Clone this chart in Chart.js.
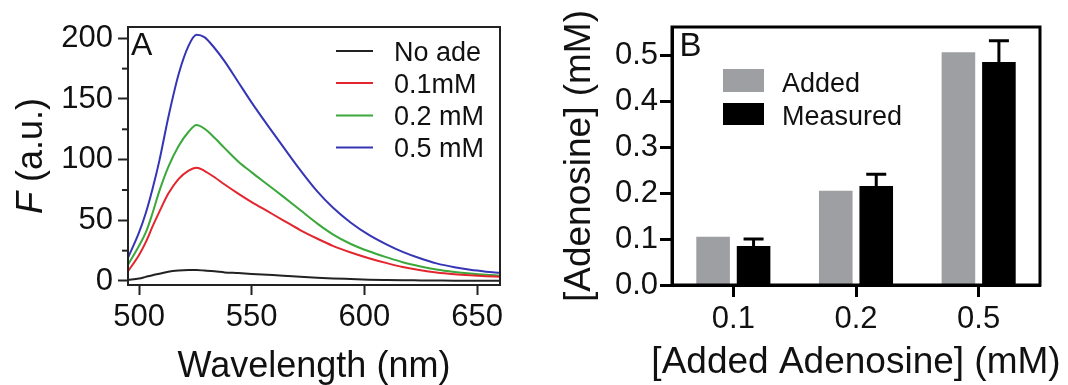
<!DOCTYPE html>
<html>
<head>
<meta charset="utf-8">
<script src="https://cdn.jsdelivr.net/npm/chart.js@4.4.1/dist/chart.umd.min.js"></script>
<style>
  body { margin: 0; background: #fff; }
  .panel { position: absolute; top: 0; height: 385px; }
  #panelA { left: 0; width: 520px; }
  #panelB { left: 540px; width: 528px; }
</style>
</head>
<body>
<div class="panel" id="panelA"><canvas id="chartA" width="520" height="385"></canvas></div>
<div class="panel" id="panelB"><canvas id="chartB" width="528" height="385"></canvas></div>
<script>
// panel A: emission spectra
const wavelengths = [495, 500, 503, 506, 509, 513, 517.5, 522, 525.5, 529, 533.5, 538, 544, 550, 557, 564, 571.5, 579, 586, 594, 602, 610, 617, 625, 632, 640, 647, 654, 660];
const noAde = [0.8, 2, 3.4, 4.8, 6, 7.7, 8.6, 9, 9, 8.6, 8, 7.1, 6.5, 5.8, 5.1, 4.4, 3.5, 2.7, 2.1, 1.6, 1.1, 0.8, 0.6, 0.5, 0.4, 0.3, 0.3, 0.2, 0.2];
const ade01 = [7.7, 21.4, 32, 45, 57, 72, 84, 91, 93.4, 90.8, 85.5, 79.5, 72, 65, 57.5, 50, 42, 35, 29, 23.5, 18.8, 14.7, 11.5, 8.8, 7, 5.6, 4.7, 4, 3.5];
const ade02 = [13, 29, 40, 56, 74, 94, 111, 123, 128.5, 125.5, 118, 109.5, 98.5, 89.5, 79.5, 69.5, 58.5, 47.5, 38.5, 30.5, 24.5, 19.5, 15.5, 12, 9.5, 7.5, 6.2, 5.2, 4.6];
const ade05 = [18.7, 40, 56, 76, 99, 135, 170, 194, 203, 201, 192, 181, 164, 147, 128.5, 110.5, 91.5, 74, 60.5, 48, 38, 30, 24, 18.5, 14.5, 11.3, 9.2, 7.7, 6.7];
const spectraLabels = ["No ade", "0.1mM", "0.2 mM", "0.5 mM"];
const spectraColors = ["#222222", "#e3262e", "#3aa83a", "#3535b5"];

// panel B: added vs measured
const addedLevels = ["0.1", "0.2", "0.5"];
const added = [0.105, 0.205, 0.506];
const measured = [0.085, 0.215, 0.485];
const measuredErr = [0.015, 0.026, 0.046];

const FONT = "'Liberation Sans', Arial, Helvetica, sans-serif";
Chart.defaults.font.family = FONT;
Chart.defaults.color = "#111";

const toPoints = (ys) => wavelengths.map((x, i) => ({ x, y: ys[i] }));

const decorA = {
  id: "decorA",
  afterDraw(chart) {
    const { ctx, chartArea: a, scales } = chart;
    ctx.save();
    // frame
    ctx.strokeStyle = "#222";
    ctx.lineWidth = 2;
    ctx.strokeRect(a.left, a.top, a.right - a.left, a.bottom - a.top);
    // minor y ticks
    [25, 75, 125, 175].forEach((v) => {
      const y = scales.y.getPixelForValue(v);
      ctx.beginPath();
      ctx.moveTo(a.left - 6, y);
      ctx.lineTo(a.left, y);
      ctx.stroke();
    });
    ctx.fillStyle = "#111";
    ctx.textBaseline = "alphabetic";
    // panel letter
    ctx.font = "32px " + FONT;
    ctx.textAlign = "left";
    ctx.fillText("A", 131, 55);
    // legend
    ctx.font = "27px " + FONT;
    const rows = [51, 83, 115.5, 147.5];
    spectraLabels.forEach((lab, i) => {
      ctx.strokeStyle = spectraColors[i];
      ctx.lineWidth = 2;
      ctx.beginPath();
      ctx.moveTo(336, rows[i]);
      ctx.lineTo(373, rows[i]);
      ctx.stroke();
      ctx.fillText(lab, 394, rows[i] + 9.5);
    });
    // x title
    ctx.font = "36px " + FONT;
    ctx.textAlign = "center";
    ctx.fillText("Wavelength (nm)", (a.left + a.right) / 2, 377);
    // y title, F in italics
    ctx.translate(42, (a.top + a.bottom) / 2);
    ctx.rotate(-Math.PI / 2);
    ctx.textAlign = "left";
    ctx.font = "italic 36px " + FONT;
    const wF = ctx.measureText("F").width;
    ctx.font = "36px " + FONT;
    const wRest = ctx.measureText(" (a.u.)").width;
    const x0 = -(wF + wRest) / 2;
    ctx.font = "italic 36px " + FONT;
    ctx.fillText("F", x0, 0);
    ctx.font = "36px " + FONT;
    ctx.fillText(" (a.u.)", x0 + wF, 0);
    ctx.restore();
  },
};

const chartA = new Chart(document.getElementById("chartA"), {
  type: "line",
  data: {
    datasets: [noAde, ade01, ade02, ade05].map((ys, i) => ({
      label: spectraLabels[i],
      data: toPoints(ys),
      borderColor: spectraColors[i],
      borderWidth: 2,
      pointRadius: 0,
      fill: false,
      cubicInterpolationMode: "monotone",
    })),
  },
  options: {
    responsive: false,
    animation: false,
    devicePixelRatio: 1,
    layout: { padding: { top: 27, right: 20, left: 0, bottom: 0 } },
    plugins: { legend: { display: false }, tooltip: { enabled: false } },
    scales: {
      x: {
        type: "linear",
        min: 495.1,
        max: 660.2,
        ticks: { stepSize: 50, includeBounds: false, maxRotation: 0, padding: 4, font: { size: 31 } },
        grid: { drawOnChartArea: false, tickLength: 10, tickWidth: 2, tickColor: "#222" },
        border: { color: "#222", width: 2 },
        afterFit: (s) => { s.height = 100; },
      },
      y: {
        min: -3.3,
        max: 209.3,
        ticks: { stepSize: 50, includeBounds: false, padding: 5, font: { size: 31 } },
        grid: { drawOnChartArea: false, tickLength: 10, tickWidth: 2, tickColor: "#222" },
        border: { color: "#222", width: 2 },
        afterFit: (s) => { s.width = 128; },
      },
    },
  },
  plugins: [decorA],
});

const decorB = {
  id: "decorB",
  afterDatasetsDraw(chart) {
    // error bars on the measured bars
    const { ctx, scales } = chart;
    const meta = chart.getDatasetMeta(1);
    ctx.save();
    ctx.strokeStyle = "#000";
    ctx.lineWidth = 3;
    meta.data.forEach((bar, i) => {
      const yTop = scales.y.getPixelForValue(measured[i] + measuredErr[i]);
      ctx.beginPath();
      ctx.moveTo(bar.x, bar.y);
      ctx.lineTo(bar.x, yTop);
      ctx.moveTo(bar.x - 10, yTop);
      ctx.lineTo(bar.x + 10, yTop);
      ctx.stroke();
    });
    ctx.restore();
  },
  afterDraw(chart) {
    const { ctx, chartArea: a } = chart;
    ctx.save();
    ctx.strokeStyle = "#000";
    ctx.lineWidth = 3;
    ctx.strokeRect(a.left, a.top, a.right - a.left, a.bottom - a.top);
    ctx.fillStyle = "#111";
    ctx.textBaseline = "alphabetic";
    ctx.font = "33px " + FONT;
    ctx.textAlign = "left";
    ctx.fillText("B", 139.5, 56);
    // legend
    const ds = chart.data.datasets;
    const boxes = [[69, 92], [103, 125]];
    ctx.font = "27px " + FONT;
    ds.forEach((d, i) => {
      ctx.fillStyle = d.backgroundColor;
      ctx.fillRect(183, boxes[i][0], 41, boxes[i][1] - boxes[i][0]);
      ctx.fillStyle = "#111";
      ctx.fillText(d.label, 242, boxes[i][1]);
    });
    // titles
    ctx.font = "37px " + FONT;
    ctx.textAlign = "center";
    ctx.fillText("[Added Adenosine] (mM)", (a.left + a.right) / 2, 373);
    ctx.translate(50, (a.top + a.bottom) / 2);
    ctx.rotate(-Math.PI / 2);
    ctx.fillText("[Adenosine] (mM)", 0, 0);
    ctx.restore();
  },
};

const chartB = new Chart(document.getElementById("chartB"), {
  type: "bar",
  data: {
    labels: addedLevels,
    datasets: [
      { label: "Added", data: added, backgroundColor: "#9e9fa3" },
      { label: "Measured", data: measured, backgroundColor: "#000000" },
    ],
  },
  options: {
    responsive: false,
    animation: false,
    devicePixelRatio: 1,
    layout: { padding: { top: 27, right: 28, left: 0, bottom: 0 } },
    datasets: { bar: { barPercentage: 0.83, categoryPercentage: 0.66, borderWidth: 0 } },
    plugins: { legend: { display: false }, tooltip: { enabled: false } },
    scales: {
      x: {
        ticks: { maxRotation: 0, padding: 4, font: { size: 31 } },
        grid: { offset: false, drawOnChartArea: false, tickLength: 12, tickWidth: 3, tickColor: "#000" },
        border: { color: "#000", width: 3 },
        afterFit: (s) => { s.height = 100; },
      },
      y: {
        min: 0,
        max: 0.561,
        ticks: { stepSize: 0.1, includeBounds: false, padding: 2, font: { size: 31 }, callback: (v) => v.toFixed(1) },
        grid: { drawOnChartArea: false, tickLength: 12, tickWidth: 3, tickColor: "#000" },
        border: { color: "#000", width: 3 },
        afterFit: (s) => { s.width = 132; },
      },
    },
  },
  plugins: [decorB],
});
</script>
</body>
</html>
